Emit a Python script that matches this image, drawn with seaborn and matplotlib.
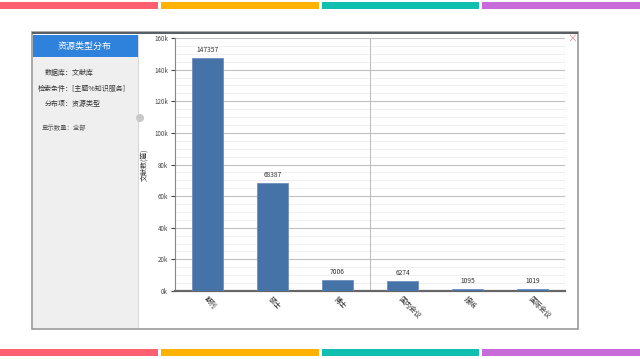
import numpy as np
import pandas as pd
import seaborn as sns
import matplotlib.pyplot as plt
from matplotlib.patches import Rectangle, Ellipse
from matplotlib.ticker import MultipleLocator, FuncFormatter

# data
categories = ["期刊", "硕士", "博士", "国内会议", "报纸", "国际会议"]
counts = [147357, 68387, 7006, 6274, 1095, 1019]
yticks = [0, 20000, 40000, 60000, 80000, 100000, 120000, 140000, 160000]
strip_colors = ["#ff6070", "#ffb300", "#10bfb0", "#c76bd8"]
panel_lines = ["数据库：文献库", "检索条件：[主题%知识服务]", "分布项：资源类型"]

sns.set_theme(style="white")
plt.rcParams["font.family"] = ["Noto Sans CJK SC", "DejaVu Sans"]

W, H = 640, 359
fig = plt.figure(figsize=(6.4, 3.59), dpi=100)
fig.patch.set_facecolor("white")


def box(x0, y0, x1, y1, **kw):
    # pixel box, y measured from the top
    r = Rectangle((x0 / W, 1 - y1 / H), (x1 - x0) / W, (y1 - y0) / H,
                  transform=fig.transFigure, zorder=-10, **kw)
    fig.patches.append(r)


def txt(x, y, s, **kw):
    fig.text(x / W, 1 - y / H, s, **kw)


# coloured strips at top and bottom
edges = [0, 158, 161, 319, 322, 479, 482, 640]
for i, c in enumerate(strip_colors):
    box(edges[2 * i], 2, edges[2 * i + 1], 9, color=c, lw=0)
    box(edges[2 * i], 349, edges[2 * i + 1], 356, color=c, lw=0)

# screenshot frame
box(32, 32, 578, 329, facecolor="white", edgecolor="#9a9a9a", lw=1.2)
box(32, 32, 578, 34, color="#5a5f66", lw=0)
# left side panel
box(33, 35, 138, 328, color="#efefef", lw=0)
box(137.5, 35, 138.5, 328, color="#d8d8d8", lw=0)
box(33, 35, 138, 57, color="#2f82dc", lw=0)
txt(85, 46, "资源类型分布", color="white", fontsize=6.5, ha="center", va="center")
txt(45, 73, panel_lines[0], color="#333333", fontsize=5, ha="left", va="center")
txt(38, 89, panel_lines[1], color="#333333", fontsize=5, ha="left", va="center")
txt(45, 104, panel_lines[2], color="#333333", fontsize=5, ha="left", va="center")
txt(42, 128, "显示数量：全部", color="#555555", fontsize=4.6, ha="left", va="center")
fig.patches.append(Ellipse((140 / W, 1 - 118 / H), 8 / W, 8 / H,
                           transform=fig.transFigure, color="#c8c8c8", lw=0, zorder=-5))
txt(572, 39, "×", color="#e08a8a", fontsize=7, ha="center", va="center")

# chart
ax = fig.add_axes([175 / W, 1 - 291 / H, 390 / W, 253 / H])
ax.patch.set_alpha(0)
df = pd.DataFrame({"type": categories, "count": counts})
sns.barplot(data=df, x="type", y="count", color="#4572A7", width=0.49,
            saturation=1, ax=ax, zorder=3, edgecolor="#6f8fbd", linewidth=0.6)

ax.set_ylim(0, 160000)
ax.set_xlim(-0.5, len(categories) - 0.5)
ax.set_yticks(yticks)
ax.yaxis.set_major_formatter(FuncFormatter(lambda v, p: f"{int(v / 1000)}k"))
ax.yaxis.set_minor_locator(MultipleLocator(5000))
ax.grid(axis="y", which="major", color="#c0c0c0", lw=0.8, zorder=0)
ax.grid(axis="y", which="minor", color="#ececec", lw=0.6, zorder=0)
ax.axvline(2.5, color="#c0c0c0", lw=0.8, zorder=1)
ax.axvline(5.5, color="#c0c0c0", lw=0.8, zorder=1)
ax.set_axisbelow(True)

for s in ["top", "right"]:
    ax.spines[s].set_visible(False)
ax.spines["left"].set_color("#888888")
ax.spines["left"].set_linewidth(0.8)
ax.spines["bottom"].set_color("#666666")
ax.spines["bottom"].set_linewidth(1.6)

ax.tick_params(axis="y", labelsize=4.5, colors="#444444", length=3, width=0.8,
               direction="out", left=True, pad=2)
ax.tick_params(axis="y", which="minor", length=0)
ax.tick_params(axis="x", labelsize=5, colors="#222222", length=0, pad=3)
for lab in ax.get_xticklabels():
    lab.set_rotation(-45)
    lab.set_ha("left")
    lab.set_rotation_mode("anchor")

ax.set_xlabel("")
ax.set_ylabel("文献数(篇)", fontsize=5, color="#333333", labelpad=4)

for i, v in enumerate(counts):
    ax.text(i, v + 2500, str(v), ha="center", va="bottom", fontsize=4.8, color="#333333")

fig.savefig("out.png", dpi=100)
